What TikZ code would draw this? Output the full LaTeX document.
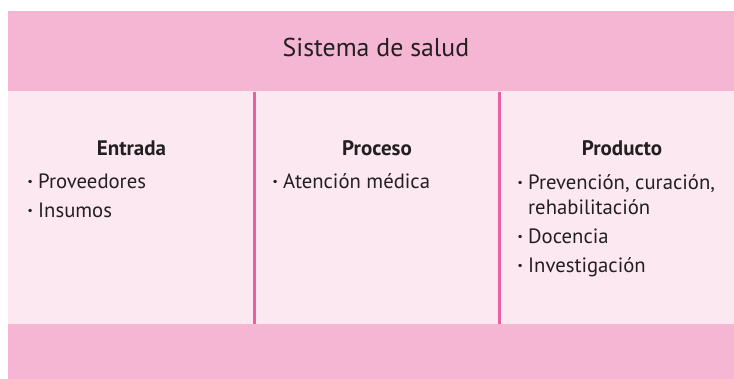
\documentclass[tikz,border=0pt]{standalone}
\usepackage{fontspec}
\setmainfont{PT Sans}
\definecolor{bandpink}{HTML}{F5B6D4}
\definecolor{lightpink}{HTML}{FCE8F1}
\definecolor{divpink}{HTML}{EE5FA0}
\definecolor{txtgray}{HTML}{231F20}
\begin{document}
\begin{tikzpicture}[x=1pt,y=-1pt,
  band/.style={fill=bandpink, draw=none, inner sep=0pt, anchor=north west, minimum width=726pt},
  body/.style={fill=lightpink, draw=none, inner sep=0pt, anchor=north west, minimum width=726pt},
  divider/.style={draw=divpink, line width=2.6pt},
  titletext/.style={text=txtgray, font=\fontsize{25.8}{30}\selectfont, anchor=base, inner sep=0pt},
  headtext/.style={text=txtgray, font=\fontsize{21}{25}\selectfont\bfseries, anchor=base, inner sep=0pt},
  item/.style={text=txtgray, font=\fontsize{20.7}{25}\selectfont, anchor=base west, inner sep=0pt},
  bul/.style={text=txtgray, font=\fontsize{20.7}{25}\selectfont\bfseries, anchor=base east, inner sep=0pt, xshift=-5pt}
]
\useasboundingbox (0,0) rectangle (734,379);
% bands
\node[band, minimum height=80pt] (topband) at (8,11) {};
\node[body, minimum height=233pt] (midband) at (8,91) {};
\node[band, minimum height=55pt] (botband) at (8,324) {};
% dividers
\coordinate (d1t) at (254.5,92);
\coordinate (d1b) at (254.5,324);
\coordinate (d2t) at (499.5,92);
\coordinate (d2b) at (499.5,324);
\draw[divider] (d1t) -- (d1b);
\draw[divider] (d2t) -- (d2b);
% title
\node[titletext] (title) at (376,57) {Sistema de salud};
% headings
\node[headtext] (entrada) at (131.5,156) {Entrada};
\node[headtext] (proceso) at (377,156) {Proceso};
\node[headtext] (producto) at (622,156) {Producto};
% Entrada items
\node[item] (e1) at (38,189) {Proveedores};
\node[bul] (e1b) at (e1.base west) {·};
\node[item] (e2) at (38,217.5) {Insumos};
\node[bul] (e2b) at (e2.base west) {·};
% Proceso items
\node[item] (p1) at (283,189) {Atención médica};
\node[bul] (p1b) at (p1.base west) {·};
% Producto items
\node[item] (r1) at (528,189.5) {Prevención, curación,};
\node[bul] (r1b) at (r1.base west) {·};
\node[item] (r1c) at (528,215) {rehabilitación};
\node[item] (r2) at (528,244) {Docencia};
\node[bul] (r2b) at (r2.base west) {·};
\node[item] (r3) at (528,273) {Investigación};
\node[bul] (r3b) at (r3.base west) {·};
\end{tikzpicture}
\end{document}
